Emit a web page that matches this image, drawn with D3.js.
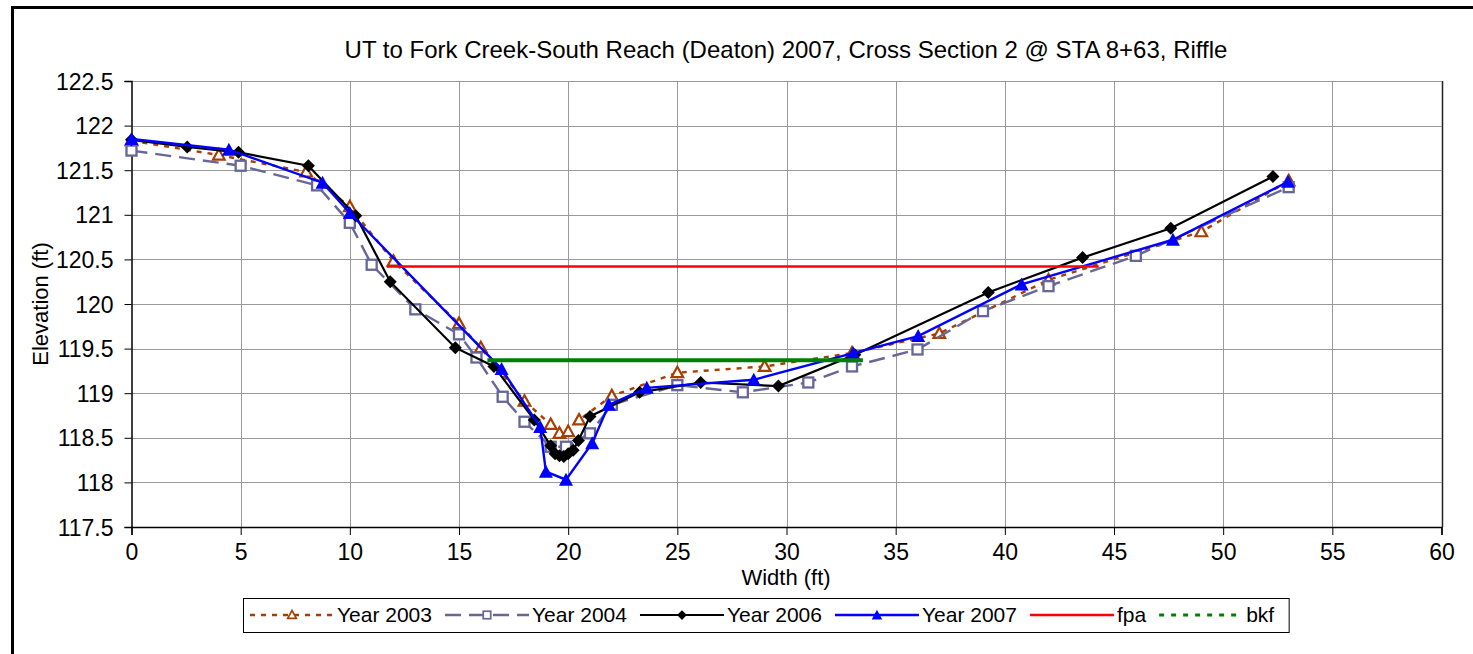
<!DOCTYPE html>
<html>
<head>
<meta charset="utf-8">
<script src="https://cdn.jsdelivr.net/npm/d3@7"></script>
<style>
	body { margin: 0; background: #fff; }
	text { font-family: "Liberation Sans", Arial, sans-serif; fill: #000; }
	.grid line { stroke: #999; stroke-width: 1px; }
</style>
</head>
<body>
<div id="content"></div>
<script>

	// Survey points
	var x2003 = [0, 4, 8, 10, 12, 15, 16, 18, 19.2, 19.6, 20, 20.5, 22, 25, 29, 33, 37, 42, 49, 53];
	var y2003 = [121.83, 121.67, 121.48, 121.09, 120.48, 119.78, 119.51, 118.91, 118.65, 118.55, 118.57, 118.70, 118.97, 119.23, 119.30, 119.45, 119.67, 120.27, 120.81, 121.38];

	var x2004 = [0, 5, 8.5, 10, 11, 13, 15, 15.8, 17, 18, 19.2, 19.9, 21, 22, 25, 28, 31, 33, 36, 39, 42, 46, 53];
	var y2004 = [121.72, 121.55, 121.33, 120.91, 120.44, 119.94, 119.66, 119.40, 118.96, 118.68, 118.40, 118.40, 118.55, 118.87, 119.09, 119.01, 119.12, 119.30, 119.49, 119.92, 120.20, 120.54, 121.31];

	var x2006 = [0, 2.55, 4.9, 8.1, 10.27, 11.85, 14.83, 16.6, 18.45, 19.2, 19.4, 19.6, 19.8, 20.0, 20.23, 20.47, 21.0, 23.27, 26.07, 29.63, 33.13, 39.24, 43.56, 47.6, 52.28];
	var y2006 = [121.84, 121.76, 121.70, 121.55, 120.99, 120.25, 119.51, 119.30, 118.70, 118.41, 118.32, 118.30, 118.29, 118.32, 118.36, 118.47, 118.74, 119.01, 119.12, 119.08, 119.43, 120.13, 120.52, 120.85, 121.43];

	var x2007 = [0, 4.46, 8.75, 10.0, 16.95, 18.72, 18.98, 19.9, 21.1, 21.86, 23.6, 28.5, 33.05, 36.03, 40.77, 47.7, 52.97];
	var y2007 = [121.85, 121.73, 121.36, 121.02, 119.27, 118.62, 118.12, 118.03, 118.44, 118.87, 119.06, 119.15, 119.45, 119.64, 120.22, 120.72, 121.37];

	var xFpa = [11.7, 44.3];
	var yFpa = [120.42, 120.42];

	var xBkf = [16.3, 33.5];
	var yBkf = [119.37, 119.37];

	var xTicks = d3.range(0, 61, 5);
	var yTicks = [117.5, 118, 118.5, 119, 119.5, 120, 120.5, 121, 121.5, 122, 122.5];

	var width = 1473,
	    height = 654;

	var svg = d3.select("#content").append("svg")
	    .attr("width", width)
	    .attr("height", height);

	var plotLeft = 131.5, plotRight = 1441.5, plotTop = 81, plotBottom = 527;

	var x = d3.scaleLinear().domain([0, 60]).range([plotLeft, plotRight]);
	var y = d3.scaleLinear().domain([117.5, 122.5]).range([plotBottom, plotTop]);

	// outer chart border
	svg.append("rect")
	    .attr("x", 12.5).attr("y", 7.5)
	    .attr("width", width + 20).attr("height", height + 20)
	    .attr("fill", "none")
	    .attr("stroke", "#000")
	    .attr("stroke-width", 3);

	// gridlines
	var grid = svg.append("g").attr("class", "grid");
	grid.selectAll("line.v")
	    .data(xTicks.slice(1))
	    .enter().append("line")
	      .attr("x1", function(d) { return Math.round(x(d)) + 0.5; })
	      .attr("x2", function(d) { return Math.round(x(d)) + 0.5; })
	      .attr("y1", plotTop).attr("y2", plotBottom);
	grid.selectAll("line.h")
	    .data(yTicks.slice(1))
	    .enter().append("line")
	      .attr("y1", function(d) { return Math.round(y(d)) + 0.5; })
	      .attr("y2", function(d) { return Math.round(y(d)) + 0.5; })
	      .attr("x1", plotLeft).attr("x2", plotRight);

	// right plot edge
	svg.append("line")
	    .attr("x1", plotRight + 1).attr("x2", plotRight + 1)
	    .attr("y1", plotTop).attr("y2", plotBottom)
	    .attr("stroke", "#222").attr("stroke-width", 1.5);

	// axes
	var xAxis = svg.append("g")
	    .attr("transform", "translate(0," + plotBottom + ")")
	    .call(d3.axisBottom(x).tickValues(xTicks).tickSize(8).tickPadding(9).tickFormat(d3.format("d")));
	var yAxis = svg.append("g")
	    .attr("transform", "translate(" + plotLeft + ",0)")
	    .call(d3.axisLeft(y).tickValues(yTicks).tickSize(7).tickPadding(11).tickFormat(function(d) { return String(d); }));

	[xAxis, yAxis].forEach(function(a) {
	  a.select(".domain").attr("stroke", "#000").attr("stroke-width", 1.5);
	  a.selectAll(".tick line").attr("stroke", "#000");
	  a.selectAll(".tick text")
	      .style("font-family", "'Liberation Sans', Arial, sans-serif")
	      .style("font-size", "23px")
	      .attr("fill", "#000");
	});
	yAxis.selectAll(".tick text").attr("dy", "0.35em");

	// titles
	svg.append("text")
	    .attr("x", 786).attr("y", 58)
	    .attr("text-anchor", "middle")
	    .style("font-size", "24px")
	    .text("UT to Fork Creek-South Reach (Deaton) 2007, Cross Section 2 @ STA 8+63, Riffle");

	svg.append("text")
	    .attr("x", 786).attr("y", 585)
	    .attr("text-anchor", "middle")
	    .style("font-size", "22px")
	    .text("Width (ft)");

	svg.append("text")
	    .attr("transform", "translate(48,304) rotate(-90)")
	    .attr("text-anchor", "middle")
	    .style("font-size", "22px")
	    .text("Elevation (ft)");

	function pairs(xs, ys) {
	  return xs.map(function(v, i) { return [v, ys[i]]; });
	}

	var series = [
	  {name: "Year 2003", pts: pairs(x2003, y2003), color: "#A83E00", width: 2.4, dash: "5,6", marker: "tri-open"},
	  {name: "Year 2004", pts: pairs(x2004, y2004), color: "#666699", width: 2.4, dash: "16,8", marker: "square"},
	  {name: "Year 2006", pts: pairs(x2006, y2006), color: "#000", width: 2.2, dash: null, marker: "diamond"},
	  {name: "Year 2007", pts: pairs(x2007, y2007), color: "#0000FF", width: 2.4, dash: null, marker: "tri"},
	  {name: "fpa", pts: pairs(xFpa, yFpa), color: "#FF0000", width: 2.6, dash: null, marker: null},
	  {name: "bkf", pts: pairs(xBkf, yBkf), color: "#008000", width: 4, dash: null, legendDash: "5,7", legendWidth: 3, marker: null}
	];

	var line = d3.line()
	    .x(function(d) { return x(d[0]); })
	    .y(function(d) { return y(d[1]); });

	function drawMarker(g, type, color) {
	  if (type === "tri-open") {
	    g.append("path").attr("d", "M0,-6L5.8,4.5L-5.8,4.5Z")
	      .attr("fill", "#fff").attr("stroke", color).attr("stroke-width", 2.2);
	  } else if (type === "tri") {
	    g.append("path").attr("d", "M0,-7L7,6L-7,6Z").attr("fill", color);
	  } else if (type === "square") {
	    g.append("rect").attr("x", -5).attr("y", -5).attr("width", 10).attr("height", 10)
	      .attr("fill", "#fff").attr("stroke", color).attr("stroke-width", 2.3);
	  } else if (type === "diamond") {
	    g.append("path").attr("d", "M0,-6.5L6.5,0L0,6.5L-6.5,0Z").attr("fill", color);
	  }
	}

	var plot = svg.append("g");

	series.forEach(function(s) {
	  plot.append("path")
	      .datum(s.pts)
	      .attr("d", line)
	      .attr("fill", "none")
	      .attr("stroke", s.color)
	      .attr("stroke-width", s.width)
	      .attr("stroke-dasharray", s.dash);

	  if (s.marker) {
	    plot.selectAll(null)
	        .data(s.pts)
	        .enter().append("g")
	          .attr("transform", function(d) { return "translate(" + x(d[0]) + "," + y(d[1]) + ")"; })
	          .each(function() { drawMarker(d3.select(this), s.marker, s.color); });
	  }
	});

	// legend
	var legend = svg.append("g");
	var box = legend.append("rect")
	    .attr("y", 598.5).attr("height", 34)
	    .attr("fill", "#fff")
	    .attr("stroke", "#000")
	    .attr("stroke-width", 1);

	var lx = 250, ly = 615;
	series.forEach(function(s) {
	  legend.append("line")
	      .attr("x1", lx).attr("x2", lx + 84)
	      .attr("y1", ly).attr("y2", ly)
	      .attr("stroke", s.color)
	      .attr("stroke-width", s.legendWidth || s.width)
	      .attr("stroke-dasharray", s.legendDash || s.dash);
	  if (s.marker) {
	    var m = legend.append("g").attr("transform", "translate(" + (lx + 42) + "," + ly + ") scale(0.75)");
	    drawMarker(m, s.marker, s.color);
	  }
	  var t = legend.append("text")
	      .attr("x", lx + 87).attr("y", ly + 7)
	      .style("font-size", "21px")
	      .text(s.name);
	  lx = lx + 87 + t.node().getComputedTextLength() + 13;
	});
	box.attr("x", 243.5).attr("width", lx - 243.5 + 2);

</script>
</body>
</html>
